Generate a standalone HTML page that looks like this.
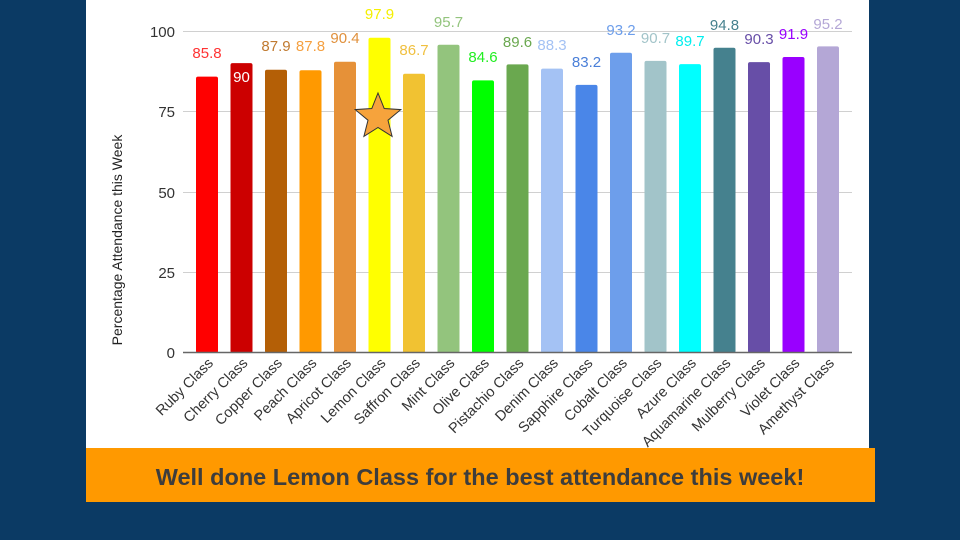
<!DOCTYPE html>
<html><head><style>
body{margin:0;background:#0b3a64;}
svg{display:block}
</style></head><body>
<svg width="960" height="540" xmlns="http://www.w3.org/2000/svg" font-family="Liberation Sans, sans-serif">
<rect width="960" height="540" fill="#0b3a64"/>
<rect x="86" y="0" width="783" height="450" fill="#fff"/>
<g stroke="#d0d0d0" stroke-width="1">
<line x1="183" y1="31.5" x2="852" y2="31.5"/>
<line x1="183" y1="111.5" x2="852" y2="111.5"/>
<line x1="183" y1="192.5" x2="852" y2="192.5"/>
<line x1="183" y1="272.5" x2="852" y2="272.5"/>
</g>
<g font-size="15" fill="#333" text-anchor="end">
<text x="175" y="37">100</text><text x="175" y="117">75</text><text x="175" y="198">50</text><text x="175" y="278">25</text><text x="175" y="358">0</text>
</g>
<text transform="translate(122,240) rotate(-90)" font-size="14" fill="#222" text-anchor="middle">Percentage Attendance this Week</text>
<g>
<rect x="196" y="76.6" width="22" height="276.4" rx="2" fill="#ff0000"/>
<rect x="230.5" y="63.1" width="22" height="289.9" rx="2" fill="#cc0000"/>
<rect x="265" y="69.8" width="22" height="283.2" rx="2" fill="#b45f06"/>
<rect x="299.5" y="70.2" width="22" height="282.8" rx="2" fill="#ff9900"/>
<rect x="334" y="61.8" width="22" height="291.2" rx="2" fill="#e69138"/>
<rect x="368.5" y="37.7" width="22" height="315.3" rx="2" fill="#ffff00"/>
<rect x="403" y="73.7" width="22" height="279.3" rx="2" fill="#f1c232"/>
<rect x="437.5" y="44.8" width="22" height="308.2" rx="2" fill="#93c47d"/>
<rect x="472" y="80.4" width="22" height="272.6" rx="2" fill="#00ff00"/>
<rect x="506.5" y="64.4" width="22" height="288.6" rx="2" fill="#6aa84f"/>
<rect x="541" y="68.6" width="22" height="284.4" rx="2" fill="#a4c2f4"/>
<rect x="575.5" y="84.9" width="22" height="268.1" rx="2" fill="#4a86e8"/>
<rect x="610" y="52.8" width="22" height="300.2" rx="2" fill="#6d9eeb"/>
<rect x="644.5" y="60.9" width="22" height="292.1" rx="2" fill="#a2c4c9"/>
<rect x="679" y="64.1" width="22" height="288.9" rx="2" fill="#00ffff"/>
<rect x="713.5" y="47.7" width="22" height="305.3" rx="2" fill="#45818e"/>
<rect x="748" y="62.1" width="22" height="290.9" rx="2" fill="#674ea7"/>
<rect x="782.5" y="57" width="22" height="296" rx="2" fill="#9900ff"/>
<rect x="817" y="46.4" width="22" height="306.6" rx="2" fill="#b4a7d6"/>
</g>
<g font-size="15" text-anchor="middle">
<text x="207" y="58" fill="#f33">85.8</text>
<text x="241.5" y="82" fill="#fff">90</text>
<text x="276" y="51" fill="#c07a30">87.9</text>
<text x="310.5" y="51" fill="#f5a040">87.8</text>
<text x="345" y="43" fill="#e0903c">90.4</text>
<text x="379.5" y="19" fill="#f5f000">97.9</text>
<text x="414" y="55" fill="#f0c040">86.7</text>
<text x="448.5" y="27" fill="#93c47d">95.7</text>
<text x="483" y="62" fill="#22ee22">84.6</text>
<text x="517.5" y="47" fill="#6aa84f">89.6</text>
<text x="552" y="50" fill="#a4c2f4">88.3</text>
<text x="586.5" y="67" fill="#4a7fd8">83.2</text>
<text x="621" y="35" fill="#6d9eeb">93.2</text>
<text x="655.5" y="43" fill="#a2c4c9">90.7</text>
<text x="690" y="46" fill="#00eeee">89.7</text>
<text x="724.5" y="30" fill="#45818e">94.8</text>
<text x="759" y="44" fill="#674ea7">90.3</text>
<text x="793.5" y="39" fill="#9900ff">91.9</text>
<text x="828" y="29" fill="#b4a7d6">95.2</text>
</g>
<g font-size="14.5" fill="#333" text-anchor="end">
<text transform="translate(214,364) rotate(-45)">Ruby Class</text>
<text transform="translate(248.5,364) rotate(-45)">Cherry Class</text>
<text transform="translate(283,364) rotate(-45)">Copper Class</text>
<text transform="translate(317.5,364) rotate(-45)">Peach Class</text>
<text transform="translate(352,364) rotate(-45)">Apricot Class</text>
<text transform="translate(386.5,364) rotate(-45)">Lemon Class</text>
<text transform="translate(421,364) rotate(-45)">Saffron Class</text>
<text transform="translate(455.5,364) rotate(-45)">Mint Class</text>
<text transform="translate(490,364) rotate(-45)">Olive Class</text>
<text transform="translate(524.5,364) rotate(-45)">Pistachio Class</text>
<text transform="translate(559,364) rotate(-45)">Denim Class</text>
<text transform="translate(593.5,364) rotate(-45)">Sapphire Class</text>
<text transform="translate(628,364) rotate(-45)">Cobalt Class</text>
<text transform="translate(662.5,364) rotate(-45)">Turquoise Class</text>
<text transform="translate(697,364) rotate(-45)">Azure Class</text>
<text transform="translate(731.5,364) rotate(-45)">Aquamarine Class</text>
<text transform="translate(766,364) rotate(-45)">Mulberry Class</text>
<text transform="translate(800.5,364) rotate(-45)">Violet Class</text>
<text transform="translate(835,364) rotate(-45)">Amethyst Class</text>
</g>
<line x1="183" y1="352.5" x2="852" y2="352.5" stroke="#666" stroke-width="1.5"/>
<polygon points="378,93 384.2,108.5 400.8,109.6 388,120.2 392.1,136.4 378,127.5 363.9,136.4 368,120.2 355.2,109.6 371.8,108.5" fill="#f6a33c" stroke="#333" stroke-width="1"/>
<rect x="86" y="448" width="789" height="54" fill="#ff9900"/>
<text x="480" y="485" font-size="23.5" font-weight="bold" fill="#3d3d3d" text-anchor="middle">Well done Lemon Class for the best attendance this week!</text>
</svg>
</body></html>
